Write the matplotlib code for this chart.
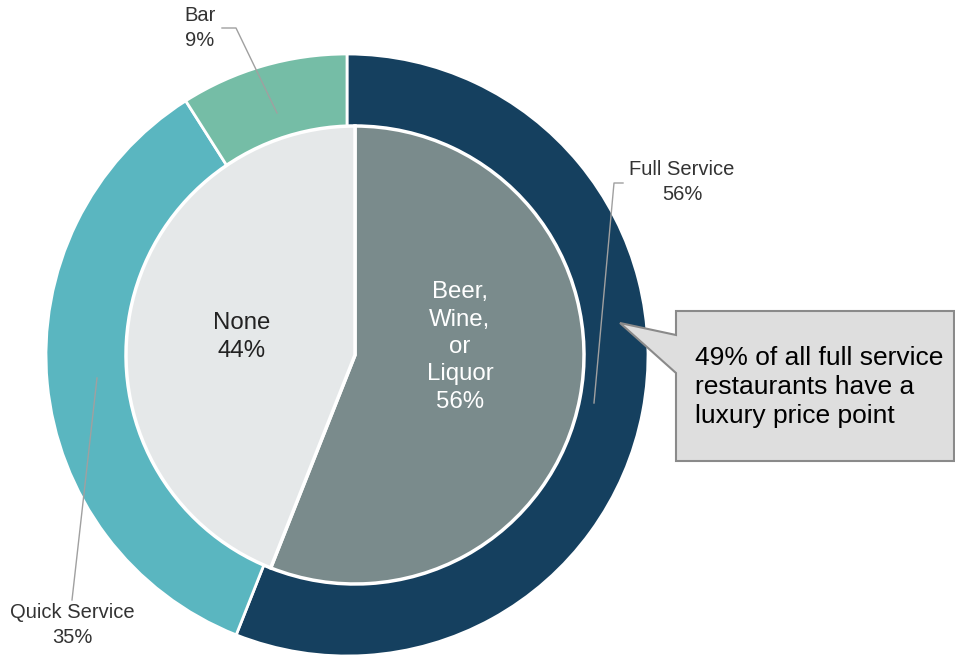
import matplotlib.pyplot as plt
from matplotlib.patches import Polygon

plt.rcParams['font.family'] = ['Liberation Sans', 'DejaVu Sans']

# outer ring: restaurant type
outer_labels = ['Full Service', 'Quick Service', 'Bar']
outer_values = [56, 35, 9]
outer_colors = ['#15405f', '#5ab6c0', '#75bda6']

# inner pie: alcohol served
inner_labels = ['Beer,\nWine,\nor\nLiquor', 'None']
inner_values = [56, 44]
inner_colors = ['#7a8b8c', '#e5e8e9']

callout_text = '49% of all full service\nrestaurants have a\nluxury price point'

W, H = 955, 657

def py(y):
    # pixel rows from top -> data y
    return H - y

fig = plt.figure(figsize=(W / 100, H / 100), dpi=100)
ax = fig.add_axes([0, 0, 1, 1])

ax.pie(outer_values, colors=outer_colors, center=(347, py(355)), radius=301,
       startangle=90, counterclock=False,
       wedgeprops=dict(edgecolor='white', linewidth=2))
ax.pie(inner_values, colors=inner_colors, center=(355, py(355)), radius=229,
       startangle=90, counterclock=False,
       wedgeprops=dict(edgecolor='white', linewidth=2.5))
ax.set_xlim(0, W)
ax.set_ylim(0, H)
ax.set_aspect('equal')
ax.axis('off')

# inner labels
ax.text(460, py(347), f'{inner_labels[0]}\n{inner_values[0]}%', ha='center', va='center',
        color='white', fontsize=17.3, linespacing=1.32)
ax.text(242, py(337), f'{inner_labels[1]}\n{inner_values[1]}%', ha='center', va='center',
        color='#222222', fontsize=17.3, linespacing=1.4)

# outer labels with leader lines
lc = '#a0a0a0'
lab_kw = dict(ha='center', va='center', color='#333333', fontsize=14.5, linespacing=1.4)
ax.plot([222, 236, 277], [py(28), py(28), py(113)], color=lc, lw=1)
ax.text(200, py(28), f'{outer_labels[2]}\n{outer_values[2]}%', **lab_kw)

ax.plot([623, 614, 594], [py(183), py(183), py(403)], color=lc, lw=1)
ax.text(682, py(182), f'{outer_labels[0]}\n{outer_values[0]}%', **lab_kw)

ax.plot([97, 72], [py(378), py(600)], color=lc, lw=1)
ax.text(72, py(625), f'{outer_labels[1]}\n{outer_values[1]}%', **lab_kw)

# callout box with pointer
box = [(676, 311), (954, 311), (954, 461), (676, 461), (676, 373), (620, 323), (676, 335)]
ax.add_patch(Polygon([(x, py(y)) for x, y in box], closed=True,
                     facecolor='#dedede', edgecolor='#8a8a8a', lw=1.5))
ax.text(695, py(387), callout_text, ha='left', va='center', color='black',
        fontsize=19, linespacing=1.27)

fig.savefig('out.png', dpi=100)
